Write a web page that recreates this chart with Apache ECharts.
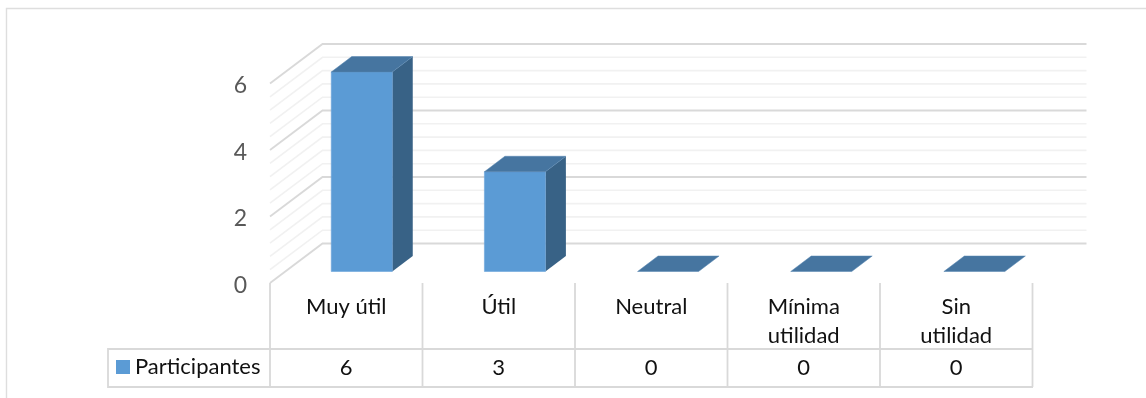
<!DOCTYPE html>
<html>
<head>
<meta charset="utf-8">
<style>html,body{margin:0;padding:0;background:#fff}#chart{width:1146px;height:398px}</style>
<script src="https://cdn.jsdelivr.net/npm/echarts@6/dist/echarts.min.js"></script>
</head>
<body>
<div id="chart"></div>
<script>
// Valoración de utilidad: columnas con perspectiva y tabla de datos
const categories = ['Muy útil', 'Útil', 'Neutral', 'Mínima\nutilidad', 'Sin\nutilidad'];
const seriesName = 'Participantes';
const participantes = [6, 3, 0, 0, 0];
const yTicks = [0, 2, 4, 6];
const minorLevels = [0.4, 0.8, 1.2, 1.6, 2.4, 2.8, 3.2, 3.6, 4.4, 4.8, 5.2, 5.6];

const FONT = 'Lato, "Open Sans", sans-serif';
const BLUE = '#5B9BD5', TOP = '#4675A0', SIDE = '#386286';
const MAJOR = '#D9D9D9', MINOR = '#F1F1F1';
const WALL_DX = 52.5, WALL_DY = 39.5;      // profundidad de la pared del fondo
const BAR_DX = 20.5, BAR_DY = 15.5;        // profundidad de cada columna
const BAR_LIFT_X = 15.5, BAR_LIFT_Y = 11.5; // separación de la columna respecto al frente
const BAR_DRIFT = 0.65;                    // las columnas se abren un poco con la perspectiva
const TABLE_TOP = 349, TABLE_BOTTOM = 387, TABLE_LEFT = 108;

function wallLine(params, api) {
  const p = api.coord([0, api.value(1)]);
  const band = api.size([1, 0])[0];
  const x0 = p[0] - band / 2;
  const xEnd = x0 + band * categories.length + WALL_DX + 1.5;
  return {
    type: 'polyline',
    shape: { points: [[x0, p[1]], [x0 + WALL_DX, p[1] - WALL_DY], [xEnd, p[1] - WALL_DY]] },
    style: { fill: null, stroke: api.value(2) ? MAJOR : MINOR, lineWidth: api.value(2) ? 1.8 : 1.6 }
  };
}

function column(params, api) {
  const i = api.value(0);
  const base = api.coord([i, 0]);
  const head = api.coord([i, api.value(1)]);
  const w = api.size([1, 0])[0] * 0.4;
  const xl = base[0] + BAR_LIFT_X + i * BAR_DRIFT - w / 2, xr = xl + w;
  const yb = base[1] - BAR_LIFT_Y, yt = head[1] - BAR_LIFT_Y;
  const children = [];
  if (yb - yt > 0.5) {
    children.push({
      type: 'polygon',
      shape: { points: [[xr, yt], [xr + BAR_DX, yt - BAR_DY], [xr + BAR_DX, yb - BAR_DY], [xr, yb]] },
      style: { fill: SIDE }
    });
    children.push({
      type: 'rect',
      shape: { x: xl, y: yt, width: w, height: yb - yt },
      style: { fill: BLUE, stroke: '#6BA5DA', lineWidth: 0.6 }
    });
  }
  children.push({
    type: 'polygon',
    shape: { points: [[xl, yt], [xl + BAR_DX, yt - BAR_DY], [xr + BAR_DX, yt - BAR_DY], [xr, yt]] },
    style: { fill: TOP, stroke: '#5485B0', lineWidth: 0.5 }
  });
  return { type: 'group', children };
}

function tableCell(params, api) {
  const i = api.value(0);
  const c = api.coord([i, 0]);
  const band = api.size([1, 0])[0];
  const xr = c[0] + band / 2;
  const children = [
    { type: 'line', shape: { x1: xr, y1: c[1], x2: xr, y2: TABLE_BOTTOM }, style: { stroke: MAJOR, lineWidth: 1.8 } },
    {
      type: 'text',
      x: c[0], y: (TABLE_TOP + TABLE_BOTTOM) / 2,
      style: { text: String(api.value(1)), fill: '#111', font: '22px ' + FONT, align: 'center', verticalAlign: 'middle' }
    }
  ];
  if (i === 0) {
    const xl = c[0] - band / 2;
    children.push({ type: 'line', shape: { x1: xl, y1: c[1], x2: xl, y2: TABLE_BOTTOM }, style: { stroke: MAJOR, lineWidth: 1.8 } });
  }
  return { type: 'group', children };
}

const wallData = minorLevels.map(v => [0, v, 0]).concat(yTicks.map(v => [0, v, 1]));

const chart = echarts.init(document.getElementById('chart'), null, { renderer: 'canvas' });
chart.setOption({
  backgroundColor: '#fff',
  animation: false,
  grid: { left: 270, right: 113.5, top: 83.5, bottom: 115 },
  xAxis: {
    type: 'category',
    data: categories,
    axisLine: { show: false },
    axisTick: { show: false },
    splitLine: { show: false },
    axisLabel: {
      interval: 0, margin: 9, lineHeight: 29,
      color: '#111', fontFamily: FONT, fontSize: 22
    }
  },
  yAxis: {
    type: 'value',
    min: 0, max: 6, interval: 2,
    axisLine: { show: false },
    axisTick: { show: false },
    splitLine: { show: false },
    axisLabel: { margin: 23, verticalAlign: 'top', lineHeight: 5, color: '#595959', fontFamily: FONT, fontSize: 23 }
  },
  legend: {
    data: [seriesName],
    left: 111, top: 351,
    icon: 'rect', itemWidth: 14, itemHeight: 14, itemGap: 6,
    textStyle: { color: '#111', fontFamily: FONT, fontSize: 22 },
    selectedMode: false
  },
  series: [
    { type: 'custom', z: 1, silent: true, renderItem: wallLine, encode: { x: 0, y: 1 }, data: wallData },
    { type: 'custom', z: 1, silent: true, renderItem: tableCell, encode: { x: 0, y: 2 },
      data: participantes.map((v, i) => [i, v, 0]) },
    { type: 'custom', z: 2, name: seriesName, renderItem: column, encode: { x: 0, y: 1 },
      itemStyle: { color: BLUE }, data: participantes.map((v, i) => [i, v]) }
  ],
  graphic: [
    // marco exterior, recortado por la derecha y por abajo
    { type: 'polyline', silent: true, z: 0,
      shape: { points: [[6.5, 398], [6.5, 8.5], [1146, 8.5]] },
      style: { fill: null, stroke: '#DEDEDE', lineWidth: 1.4 } },
    // caja de la tabla de datos
    { type: 'polyline', silent: true, z: 0,
      shape: { points: [[1033, TABLE_TOP], [TABLE_LEFT, TABLE_TOP], [TABLE_LEFT, TABLE_BOTTOM], [1033, TABLE_BOTTOM]] },
      style: { fill: null, stroke: MAJOR, lineWidth: 1.8 } }
  ]
});
</script>
</body>
</html>
